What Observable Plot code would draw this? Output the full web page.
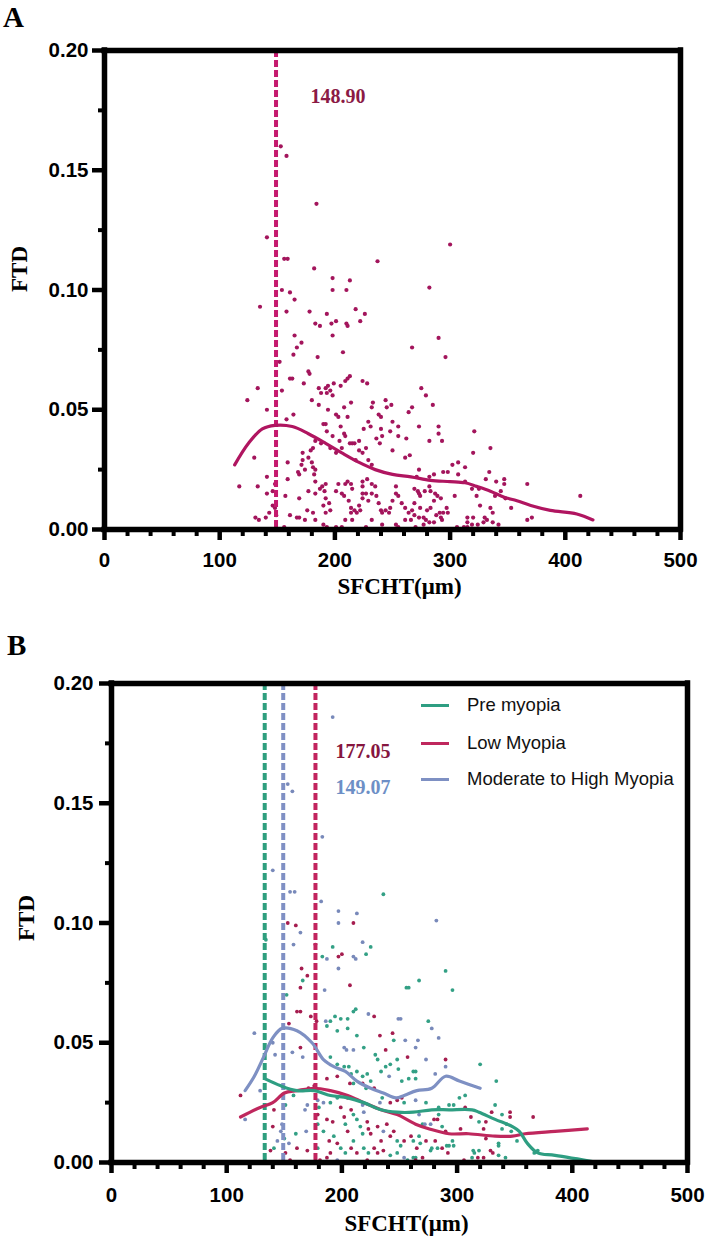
<!DOCTYPE html>
<html>
<head>
<meta charset="utf-8">
<script src="https://cdn.jsdelivr.net/npm/d3@7"></script>
<script src="https://cdn.jsdelivr.net/npm/@observablehq/plot@0.6"></script>
<style>
  html, body { margin: 0; padding: 0; background: #fff; }
  #wrap { position: relative; width: 709px; height: 1246px; overflow: hidden; background: #fff; }
  .panel { position: absolute; left: 0; width: 709px; }
  .panel svg { display: block; overflow: visible; max-width: none; }
  .tag { position: absolute; font-family: "Liberation Serif", "Times New Roman", serif; font-weight: bold; font-size: 29px; line-height: 29px; color: #000; }
  .lg-line { position: absolute; width: 28px; height: 3px; }
  .lg-text { position: absolute; font-family: "Liberation Sans", Arial, sans-serif; font-size: 18.5px; line-height: 18.5px; color: #111; white-space: nowrap; }
</style>
</head>
<body>
<div id="wrap"></div>
<script>
// ---------- axes ----------
const xMajorTicks = [0, 100, 200, 300, 400, 500];
const xMinorTicks = [20, 40, 60, 80, 120, 140, 160, 180, 220, 240, 260, 280, 320, 340, 360, 380, 420, 440, 460, 480];
const yMajorTicks = [0, 0.05, 0.10, 0.15, 0.20];
const yMinorTicks = [0.025, 0.075, 0.125, 0.175];
const xDomain = [0, 500];
const yDomain = [0, 0.20];
const xTitle = "SFCHT(μm)";
const yTitle = "FTD";

// ---------- panel A: all eyes ----------
const cutoffA = 148.90;
const pointsA = [
  [153,0.160],[158,0.156],[184,0.136],[141,0.122],[156,0.113],[159,0.113],[182,0.109],[198,0.105],[213,0.104],[154,0.100],[161,0.099],[198,0.100],[210,0.100],[300,0.119],[237,0.112],[282,0.101],
  [165,0.096],[135,0.093],[158,0.091],[178,0.091],[193,0.090],[218,0.092],[226,0.090],[222,0.087],[183,0.086],[187,0.085],[197,0.086],[201,0.087],[210,0.086],[211,0.085],[198,0.081],[165,0.081],[171,0.078],[167,0.076],[164,0.073],[185,0.072],[207,0.074],[152,0.070],[177,0.066],[178,0.065],[161,0.063],[163,0.063],[173,0.061],[211,0.063],[213,0.064],[224,0.062],[228,0.061],[133,0.059],[154,0.058],[186,0.059],[192,0.059],[194,0.060],[199,0.061],[196,0.058],[193,0.057],[188,0.057],[205,0.060],[209,0.062],[124,0.054],[180,0.054],[198,0.056],[214,0.053],[208,0.051],[186,0.052],[194,0.050],[141,0.050],[164,0.048],[158,0.046],[201,0.048],[203,0.047],[211,0.047],[190,0.044],[192,0.044],[205,0.043],[193,0.041],[198,0.039],[208,0.040],[209,0.039],[204,0.037],[215,0.036],[217,0.036],[213,0.036],[221,0.037],[225,0.042],[229,0.045],[231,0.043],[232,0.051],[233,0.053],[238,0.048],[240,0.047],[244,0.054],[245,0.051],[249,0.052],[255,0.043],[250,0.045],[240,0.042],[241,0.039],[236,0.038],[239,0.036],[248,0.041],[250,0.033],[255,0.039],[264,0.049],[267,0.051],[262,0.038],[261,0.030],[265,0.031],[196,0.034],[188,0.036],[183,0.037],[181,0.034],[179,0.033],[177,0.030],[201,0.032],[206,0.034],[221,0.033],[224,0.032],[218,0.029],[227,0.034],[229,0.029],[232,0.027],[172,0.032],[172,0.029],[171,0.027],[169,0.023],[168,0.024],[174,0.025],[180,0.028],[181,0.026],[183,0.025],[182,0.023],[159,0.028],[159,0.021],[130,0.030],[117,0.018],[133,0.018],[141,0.022],[141,0.015],[146,0.016],[148,0.019],[148,0.009],[146,0.010],[149,0.006],[143,0.007],[140,0.005],[131,0.005],[134,0.004],[157,0.014],[161,0.006],[167,0.005],[169,0.005],[176,0.008],[169,0.013],[177,0.016],[183,0.015],[183,0.020],[187,0.017],[189,0.018],[191,0.016],[192,0.019],[192,0.013],[195,0.011],[196,0.008],[192,0.007],[190,0.010],[201,0.016],[203,0.019],[209,0.019],[211,0.020],[214,0.019],[215,0.017],[206,0.015],[208,0.014],[212,0.012],[214,0.009],[214,0.007],[217,0.008],[219,0.007],[221,0.010],[222,0.008],[224,0.013],[224,0.015],[224,0.018],[227,0.015],[229,0.012],[232,0.015],[235,0.018],[236,0.014],[238,0.011],[240,0.008],[241,0.007],[244,0.008],[247,0.007],[248,0.009],[250,0.012],[253,0.015],[253,0.018],[255,0.014],[258,0.011],[261,0.009],[264,0.007],[266,0.004],[267,0.008],[261,0.004],[253,0.002],[255,0.001],[241,0.002],[232,0.004],[227,0.001],[222,0.000],[215,0.004],[209,0.004],[206,0.001],[201,0.001],[196,0.000],[193,0.001],[190,0.002],[183,0.004],[181,0.007],[174,0.004],[156,0.001],[224,0.020],[228,0.021],[232,0.019],
  [290,0.080],[267,0.076],[296,0.072],[275,0.059],[279,0.056],[285,0.052],[273,0.043],[290,0.043],[290,0.040],[282,0.037],[293,0.037],[321,0.041],[335,0.034],[320,0.032],[302,0.027],[307,0.028],[313,0.026],[294,0.024],[298,0.024],[307,0.023],[286,0.023],[273,0.025],[271,0.022],[282,0.022],[334,0.024],[331,0.021],[340,0.020],[347,0.021],[347,0.019],[367,0.019],[413,0.014],[269,0.017],[272,0.016],[273,0.015],[278,0.016],[282,0.018],[283,0.016],[274,0.014],[287,0.015],[289,0.014],[292,0.013],[304,0.014],[313,0.020],[319,0.017],[325,0.017],[323,0.014],[344,0.016],[339,0.014],[348,0.013],[269,0.011],[274,0.009],[280,0.008],[283,0.009],[286,0.012],[291,0.007],[294,0.007],[297,0.009],[298,0.007],[326,0.010],[353,0.009],[335,0.009],[337,0.007],[269,0.006],[273,0.005],[277,0.005],[279,0.004],[282,0.003],[277,0.002],[288,0.006],[292,0.005],[293,0.004],[286,0.003],[315,0.005],[320,0.005],[315,0.003],[330,0.005],[332,0.004],[337,0.003],[342,0.002],[324,0.002],[329,0.003],[319,0.002],[315,0.001],[312,0.001],[306,0.001],[303,0.000],[270,0.001],[367,0.004],[371,0.005],[358,0.000],[425,0.000]
];
const curveA = [
  [113,0.027],[125,0.036],[137,0.042],[148,0.0435],[163,0.043],[177,0.040],[192,0.036],[206,0.032],[221,0.028],[235,0.025],[250,0.023],[266,0.022],[283,0.0205],[300,0.020],[313,0.0195],[323,0.018],[335,0.016],[347,0.0135],[358,0.012],[370,0.010],[387,0.008],[410,0.0065],[424,0.004]
];

// ---------- panel B: by refraction group ----------
const groups = ["Pre myopia", "Low Myopia", "Moderate to High Myopia"];
const cutoffPre = 133.0;
const cutoffLow = 177.05;
const cutoffMod = 149.07;

const prePoints = [
  [134,0.093],[236,0.112],[192,0.090],[225,0.090],[183,0.086],[221,0.087],[166,0.076],[152,0.070],[256,0.073],[258,0.073],[190,0.059],[194,0.061],[199,0.060],[205,0.060],[210,0.063],[212,0.064],[187,0.057],[196,0.055],[205,0.056],[213,0.053],[245,0.051],[219,0.048],[229,0.045],[238,0.040],[231,0.043],[248,0.043],[242,0.041],[249,0.039],[262,0.038],[190,0.044],[196,0.041],[202,0.040],[206,0.040],[208,0.037],[213,0.038],[218,0.036],[222,0.037],[225,0.034],[234,0.038],[252,0.034],[258,0.035],[264,0.035],[210,0.033],[221,0.031],[235,0.027],[254,0.025],[151,0.024],[158,0.028],[190,0.025],[180,0.023],[196,0.027],[150,0.010],[141,0.006],[160,0.012],[179,0.016],[184,0.013],[193,0.011],[203,0.016],[210,0.020],[213,0.018],[216,0.015],[218,0.012],[248,0.009],[251,0.007],[262,0.009],[199,0.006],[203,0.004],[210,0.009],[219,0.006],[223,0.004],[242,0.003],[248,0.004],[257,0.001],[262,0.002],[179,0.006],
  [290,0.080],[267,0.076],[296,0.072],[275,0.059],[320,0.041],[334,0.034],[264,0.038],[302,0.027],[307,0.028],[293,0.024],[297,0.024],[273,0.025],[284,0.023],[333,0.024],[339,0.020],[270,0.016],[284,0.020],[287,0.015],[319,0.017],[343,0.016],[339,0.014],[347,0.013],[352,0.009],[336,0.008],[336,0.007],[267,0.011],[268,0.008],[278,0.006],[277,0.005],[283,0.006],[291,0.007],[293,0.007],[296,0.009],[297,0.007],[314,0.005],[319,0.005],[315,0.004],[336,0.003],[342,0.002],[313,0.002],[303,0.000],[264,0.002],[367,0.004],[370,0.005]
];
const lowPoints = [
  [153,0.100],[160,0.099],[210,0.100],[177,0.091],[197,0.086],[200,0.087],[165,0.081],[170,0.078],[164,0.073],[207,0.074],[161,0.063],[164,0.063],[173,0.061],[178,0.059],[228,0.061],[154,0.058],[233,0.053],[244,0.054],[164,0.048],[238,0.047],[257,0.044],[187,0.035],[196,0.036],[207,0.033],[218,0.033],[228,0.031],[252,0.027],[248,0.026],[242,0.025],[112,0.028],[141,0.022],[171,0.031],[176,0.032],[205,0.027],[199,0.023],[208,0.022],[140,0.015],[138,0.005],[151,0.004],[161,0.006],[170,0.005],[179,0.020],[187,0.018],[192,0.017],[189,0.009],[202,0.019],[205,0.013],[222,0.017],[223,0.014],[225,0.012],[231,0.015],[234,0.009],[239,0.016],[242,0.011],[245,0.013],[254,0.009],[260,0.011],[265,0.006],[196,0.008],[208,0.006],[213,0.004],[228,0.006],[231,0.004],[236,0.005],[190,0.004],[187,0.002],[181,0.001],[155,0.001],[203,0.000],[222,0.001],[264,0.001],
  [290,0.043],[307,0.023],[330,0.021],[346,0.021],[346,0.019],[366,0.019],[280,0.018],[283,0.018],[290,0.013],[303,0.014],[312,0.019],[325,0.017],[323,0.014],[325,0.010],[273,0.009],[281,0.009],[287,0.006],[292,0.004],[329,0.005],[331,0.004],[323,0.002],[318,0.002],[306,0.001],[270,0.002],[357,0.000]
];
const modPoints = [
  [192,0.186],[153,0.158],[157,0.155],[183,0.136],[140,0.122],[155,0.113],[159,0.113],[182,0.109],[197,0.105],[213,0.104],[164,0.096],[197,0.100],[282,0.101],
  [158,0.091],[218,0.092],[187,0.085],[210,0.086],[212,0.085],[197,0.081],[185,0.072],[186,0.059],[223,0.062],[249,0.060],[251,0.060],[124,0.054],[255,0.051],[140,0.050],[157,0.046],[166,0.044],[142,0.045],[202,0.048],[204,0.047],[210,0.047],[241,0.036],[233,0.025],[264,0.026],[129,0.030],[116,0.018],[179,0.026],[184,0.025],[170,0.024],[168,0.022],[218,0.024],[219,0.021],[148,0.016],[147,0.013],[144,0.009],[154,0.008],[169,0.013],[236,0.013],[254,0.002],[196,0.001],
  [278,0.056],[284,0.052],[266,0.051],[264,0.048],[273,0.043],[290,0.040],[281,0.037],[267,0.020],[272,0.016],[277,0.016]
];
const curvePre = [
  [133,0.035],[147,0.032],[161,0.030],[176,0.030],[190,0.028],[205,0.027],[219,0.025],[234,0.022],[248,0.021],[262,0.021],[278,0.022],[293,0.022],[313,0.022],[319,0.021],[333,0.018],[348,0.015],[354,0.013],[361,0.008],[370,0.004],[385,0.003],[423,0.000]
];
const curveLow = [
  [112,0.019],[129,0.023],[140,0.025],[150,0.029],[161,0.030],[176,0.031],[190,0.030],[205,0.028],[219,0.025],[234,0.022],[248,0.020],[264,0.016],[276,0.014],[293,0.012],[310,0.012],[333,0.011],[348,0.011],[359,0.012],[385,0.013],[413,0.014]
];
const curveMod = [
  [116,0.030],[124,0.036],[132,0.044],[140,0.052],[148,0.056],[161,0.055],[174,0.050],[184,0.043],[193,0.040],[203,0.038],[213,0.034],[225,0.031],[236,0.029],[247,0.027],[254,0.028],[265,0.030],[278,0.031],[290,0.036],[302,0.034],[320,0.031]
];

// ---------- styling ----------
const sans = '"Liberation Sans", Arial, sans-serif';
const serif = '"Liberation Serif", "Times New Roman", serif';
const colA = { dot: "#A3155C", line: "#B01560", rule: "#C51A6E", label: "#8B1A45" };
const colB = {
  pre: { dot: "#33A085", line: "#2E9E82", rule: "#2E9E7E" },
  low: { dot: "#A51D4F", line: "#BF275D", rule: "#C2245E", label: "#861640" },
  mod: { dot: "#7889BA", line: "#7E90C3", rule: "#7F90C4", label: "#6D8FC6" }
};
const dash = "7,3";

// Thick box: the two axis lines plus the top and right borders
function boxMarks() {
  return [
    Plot.ruleY([yDomain[0], yDomain[1]], { y: d => d, stroke: "#000", strokeWidth: 5.5, strokeLinecap: "square" }),
    Plot.ruleX([xDomain[0], xDomain[1]], { x: d => d, stroke: "#000", strokeWidth: 5.5, strokeLinecap: "square" })
  ];
}

function axisMarks(xPad, yPad) {
  return [
    Plot.axisX(xMinorTicks, { tickSize: 7, tickFormat: () => "", strokeWidth: 4, label: null }),
    Plot.axisX(xMajorTicks, { tickSize: 11, tickPadding: xPad, tickFormat: d3.format("d"), fontSize: 20.5, fontWeight: "bold", fontFamily: sans, strokeWidth: 4.5, label: null }),
    Plot.axisY(yMinorTicks, { tickSize: 6, tickFormat: () => "", strokeWidth: 4, label: null }),
    Plot.axisY(yMajorTicks, { tickSize: 12, tickPadding: yPad, tickFormat: d3.format(".2f"), fontSize: 20.5, fontWeight: "bold", fontFamily: sans, strokeWidth: 4.5, label: null })
  ];
}

function titleMarks(xDy, yDy) {
  return [
    Plot.text([xTitle], { text: d => d, frameAnchor: "bottom", dy: xDy, dx: 7, fontFamily: serif, fontWeight: "bold", fontSize: 23, fill: "#000" }),
    Plot.text([yTitle], { text: d => d, frameAnchor: "left", dx: -84.5, dy: yDy, rotate: -90, fontFamily: serif, fontWeight: "bold", fontSize: 23, fill: "#000" })
  ];
}

const X = d => d[0], Y = d => d[1];
const wrap = document.getElementById("wrap");

// Panel A
const plotA = Plot.plot({
  width: 709, height: 620,
  marginTop: 50, marginBottom: 91, marginLeft: 104, marginRight: 29,
  style: { background: "transparent", color: "#000", fontFamily: sans, maxWidth: "none" },
  x: { domain: xDomain },
  y: { domain: yDomain },
  marks: [
    Plot.dot(pointsA, { x: X, y: Y, r: 2.1, fill: colA.dot, stroke: "none" }),
    Plot.ruleX([cutoffA], { x: d => d, stroke: colA.rule, strokeWidth: 4, strokeDasharray: dash }),
    Plot.line(curveA, { x: X, y: Y, stroke: colA.line, strokeWidth: 3.2, curve: "catmull-rom" }),
    Plot.text([cutoffA], { x: d => d, text: d => d.toFixed(2), frameAnchor: "top", dy: 38, dx: 34.5, textAnchor: "start", fill: colA.label, fontFamily: serif, fontWeight: "bold", fontSize: 20 }),
    ...axisMarks(11.5, 4),
    ...boxMarks(),
    ...titleMarks(64, 2)
  ]
});
const divA = document.createElement("div");
divA.className = "panel"; divA.style.top = "0px";
divA.appendChild(plotA);
wrap.appendChild(divA);

// Panel B
const plotB = Plot.plot({
  width: 709, height: 626,
  marginTop: 63, marginBottom: 84, marginLeft: 111, marginRight: 22,
  style: { background: "transparent", color: "#000", fontFamily: sans, maxWidth: "none" },
  x: { domain: xDomain },
  y: { domain: yDomain },
  marks: [
    Plot.dot(prePoints, { x: X, y: Y, r: 1.9, fill: colB.pre.dot, stroke: "none" }),
    Plot.dot(lowPoints, { x: X, y: Y, r: 1.9, fill: colB.low.dot, stroke: "none" }),
    Plot.dot(modPoints, { x: X, y: Y, r: 1.9, fill: colB.mod.dot, stroke: "none" }),
    Plot.ruleX([cutoffPre], { x: d => d, stroke: colB.pre.rule, strokeWidth: 4, strokeDasharray: dash }),
    Plot.ruleX([cutoffMod], { x: d => d, stroke: colB.mod.rule, strokeWidth: 4, strokeDasharray: dash }),
    Plot.ruleX([cutoffLow], { x: d => d, stroke: colB.low.rule, strokeWidth: 4, strokeDasharray: dash }),
    Plot.line(curveMod, { x: X, y: Y, stroke: colB.mod.line, strokeWidth: 3.2, curve: "catmull-rom" }),
    Plot.line(curveLow, { x: X, y: Y, stroke: colB.low.line, strokeWidth: 3.2, curve: "catmull-rom" }),
    Plot.line(curvePre, { x: X, y: Y, stroke: colB.pre.line, strokeWidth: 3.2, curve: "catmull-rom" }),
    Plot.text([cutoffLow], { x: d => d, text: d => d.toFixed(2), frameAnchor: "top", dy: 60, dx: 20, textAnchor: "start", fill: colB.low.label, fontFamily: serif, fontWeight: "bold", fontSize: 20 }),
    Plot.text([cutoffMod], { x: d => d, text: d => d.toFixed(2), frameAnchor: "top", dy: 96, dx: 52.3, textAnchor: "start", fill: colB.mod.label, fontFamily: serif, fontWeight: "bold", fontSize: 20 }),
    ...axisMarks(13.5, 6),
    ...boxMarks(),
    ...titleMarks(68, 18)
  ]
});
const divB = document.createElement("div");
divB.className = "panel"; divB.style.top = "620px";
divB.appendChild(plotB);
wrap.appendChild(divB);

// Panel tags
[["A", 3, 3], ["B", 7, 631]].forEach(([t, left, top]) => {
  const d = document.createElement("div");
  d.className = "tag"; d.textContent = t;
  d.style.left = left + "px"; d.style.top = top + "px";
  wrap.appendChild(d);
});

// Legend for panel B
const legendColors = [colB.pre.line, colB.low.line, colB.mod.line];
const legendRows = [705, 743, 779];
groups.forEach((g, i) => {
  const ln = document.createElement("div");
  ln.className = "lg-line";
  ln.style.left = "421px"; ln.style.top = (legendRows[i] - 1.5) + "px";
  ln.style.background = legendColors[i];
  wrap.appendChild(ln);
  const tx = document.createElement("div");
  tx.className = "lg-text"; tx.textContent = g;
  tx.style.left = "467px"; tx.style.top = (legendRows[i] - 9) + "px";
  wrap.appendChild(tx);
});
</script>
</body>
</html>
